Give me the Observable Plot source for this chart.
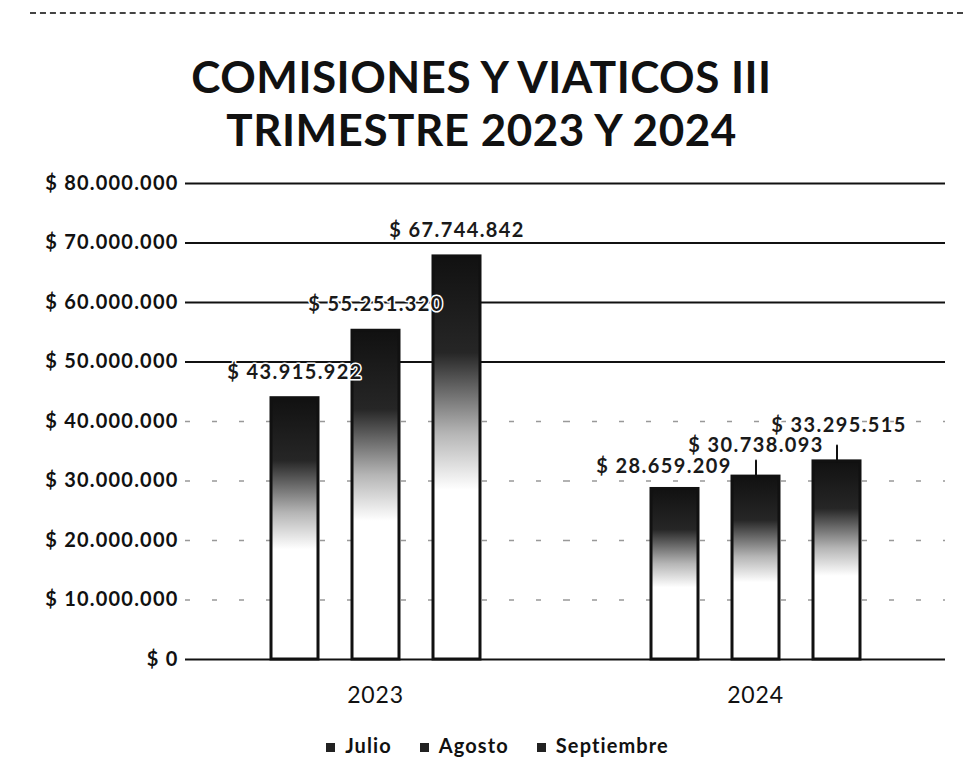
<!DOCTYPE html>
<html><head><meta charset="utf-8">
<script src="https://cdn.jsdelivr.net/npm/d3@7"></script>
<script src="https://cdn.jsdelivr.net/npm/@observablehq/plot@0.6"></script>
<style>
body{margin:0;background:#fff;font-family:Lato,"Open Sans",sans-serif;}
#wrap{width:963px;height:776px;position:relative;overflow:hidden;}
.tline{position:absolute;left:0;width:963px;height:53px;line-height:53px;text-align:center;font-weight:700;font-size:44px;letter-spacing:0.5px;color:#111;}
#chart{position:absolute;left:0;top:160px;}
#legend{position:absolute;left:0;top:733px;width:963px;display:flex;justify-content:center;gap:28px;font-weight:700;font-size:20px;letter-spacing:1.1px;color:#111;padding-left:32px;box-sizing:border-box;}
#legend span.sw{display:inline-block;width:9px;height:9px;background:#222;margin-right:10px;vertical-align:1px;}
#topline{position:absolute;left:30px;right:0;top:12px;border-top:2px dashed #444;}
</style></head>
<body><div id="wrap">
<div id="topline"></div>
<div class="tline" style="top:50px">COMISIONES Y VIATICOS III</div>
<div class="tline" style="top:103px">TRIMESTRE 2023 Y 2024</div>
<div id="chart"></div>
<div id="legend"></div>
</div>
<script>
const years = ["2023", "2024"];
const months = ["Julio", "Agosto", "Septiembre"];
const julio = [43915922, 28659209];
const agosto = [55251320, 30738093];
const septiembre = [67744842, 33295515];
const yTicks = [0, 10000000, 20000000, 30000000, 40000000, 50000000, 60000000, 70000000, 80000000];

const series = [julio, agosto, septiembre];
const data = [];
years.forEach((y, i) => months.forEach((m, j) => data.push({year: y, month: m, value: series[j][i]})));

const money = v => "$ " + d3.format(",")(v).replace(/,/g, ".");

const upper = yTicks.filter(t => t >= 50000000);
const lower = yTicks.filter(t => t > 0 && t < 50000000);

const is = (y, m) => d => d.year === y && d.month === m;
const regular = data.filter(d => d.year !== "2024");
const lbl = {fx: "year", x: "month", y: "value", text: d => money(d.value), fontSize: 20, fontWeight: "bold", fill: "#1a1a1a", stroke: "#fff", strokeWidth: 3, paintOrder: "stroke"};
const stem = {draw(ctx, l) { ctx.moveTo(0, 0); ctx.lineTo(0, -l); }};

const chart = Plot.plot({
  width: 963,
  height: 560,
  marginLeft: 185,
  marginRight: 18,
  marginTop: 23,
  marginBottom: 61,
  style: {fontFamily: "Lato, 'Open Sans', sans-serif", color: "#111", background: "transparent"},
  fx: {domain: years, padding: 0, label: null, axis: "bottom", tickSize: 0, tickPadding: 27},
  x: {domain: months, paddingInner: 0.42, paddingOuter: 1.04, axis: null},
  y: {domain: [0, 80000000], ticks: yTicks, tickFormat: money, label: null, tickSize: 0, tickPadding: 7},
  marks: [
    Plot.ruleY(lower, {stroke: "#999", strokeWidth: 1.5, strokeDasharray: "5,22"}),
    Plot.ruleY(upper, {stroke: "#111", strokeWidth: 2}),
    Plot.barY(data, {fx: "year", x: "month", y: "value", fill: "url(#barGrad)", stroke: "#111", strokeWidth: 3}),
    Plot.ruleY([0], {stroke: "#111", strokeWidth: 2}),
    Plot.vector(data.filter(d => d.year === "2024" && d.month !== "Julio"), {fx: "year", x: "month", y: "value", length: 16, anchor: "start", shape: stem, stroke: "#111", strokeWidth: 2}),
    Plot.text(regular, {...lbl, dy: -26}),
    Plot.text(data.filter(is("2024", "Julio")), {...lbl, dy: -22, dx: -11}),
    Plot.text(data.filter(is("2024", "Agosto")), {...lbl, dy: -31}),
    Plot.text(data.filter(is("2024", "Septiembre")), {...lbl, dy: -36, dx: 2})
  ]
});

const ns = "http://www.w3.org/2000/svg";
const defs = document.createElementNS(ns, "defs");
defs.innerHTML = `<linearGradient id="barGrad" x1="0" y1="0" x2="0" y2="1">
  <stop offset="0%" stop-color="#111"/>
  <stop offset="24%" stop-color="#262626"/>
  <stop offset="44%" stop-color="#b5b5b5"/>
  <stop offset="58%" stop-color="#fff"/>
  <stop offset="100%" stop-color="#fff"/>
</linearGradient>`;
chart.insertBefore(defs, chart.firstChild);
chart.querySelectorAll("g[aria-label='y-axis tick label'] text").forEach(t => {t.style.fontWeight = "bold"; t.style.fontSize = "20px"; t.style.letterSpacing = "1.2px";});
chart.querySelectorAll("g[aria-label='fx-axis tick label'] text").forEach(t => {t.style.fontSize = "23px"; t.style.letterSpacing = "0.8px";});
chart.querySelectorAll("g[aria-label='text'] text").forEach(t => {t.style.letterSpacing = "1.4px";});
document.getElementById("chart").appendChild(chart);

const legend = document.getElementById("legend");
months.forEach(m => {
  const s = document.createElement("div");
  s.innerHTML = `<span class="sw"></span>${m}`;
  legend.appendChild(s);
});
</script>
</body></html>
